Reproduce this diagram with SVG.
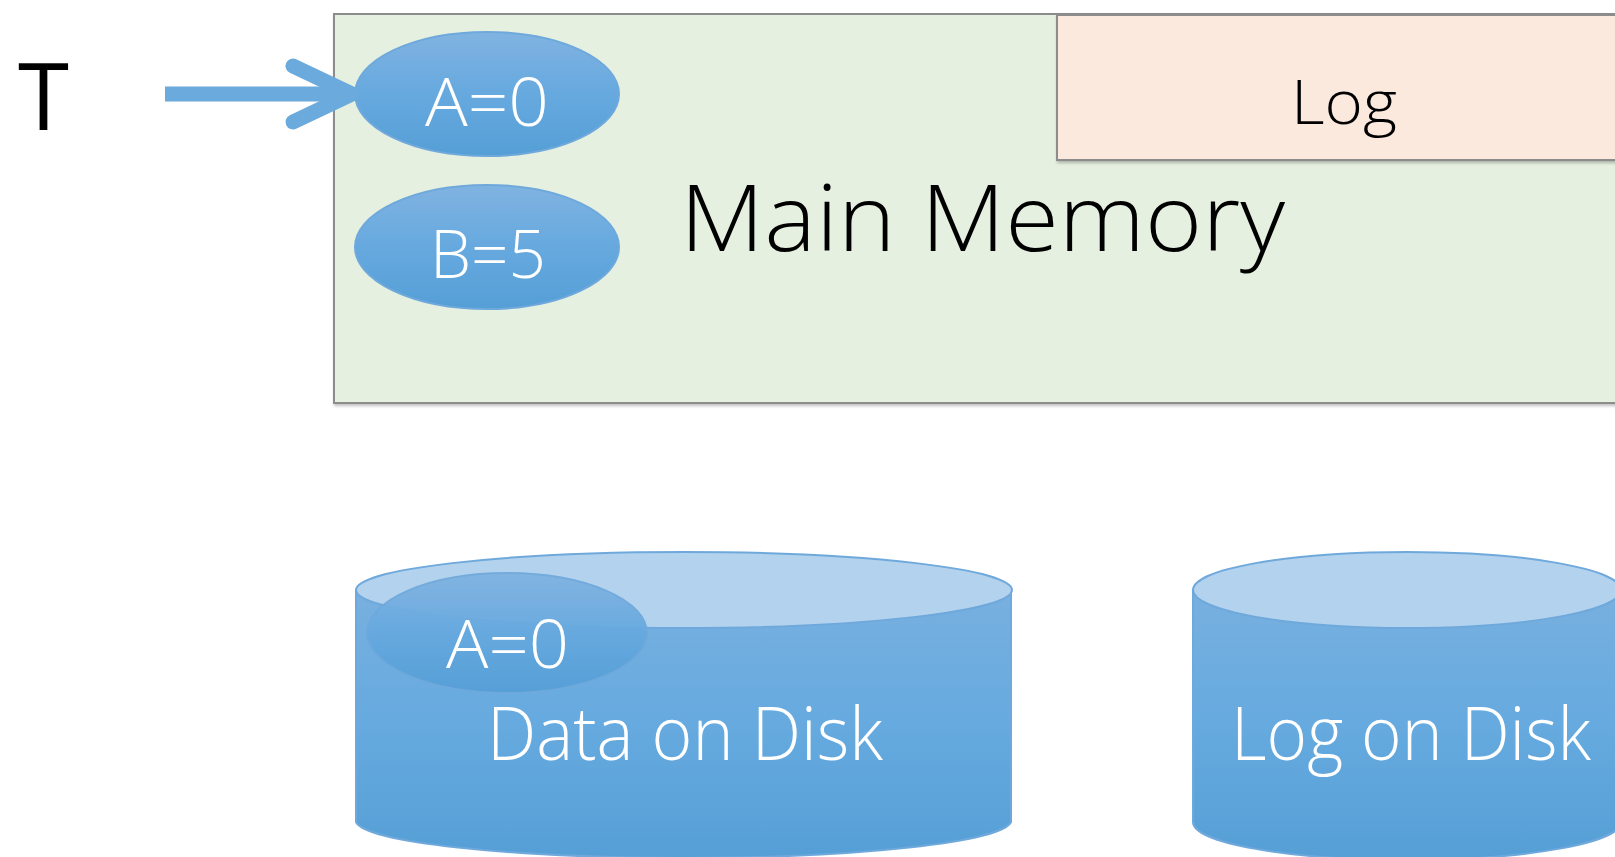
<svg xmlns="http://www.w3.org/2000/svg" width="1615" height="857" viewBox="0 0 1615 857">
<style>
.lt{font-family:"Open Sans","Liberation Sans",sans-serif;font-weight:300;}
.w{fill:#ffffff;}
.k{fill:#000000;}
.ov{stroke:#6fa9dc;stroke-width:2;fill:url(#gOv);}
.side{fill:url(#gCyl);stroke:#6fa9dc;stroke-width:2;}
.top{fill:#b3d2ed;stroke:#6fa9dc;stroke-width:2;}
</style>
<defs>
<linearGradient id="gOv" x1="0" y1="0" x2="0" y2="1">
<stop offset="0" stop-color="#80b3e1"/>
<stop offset="0.5" stop-color="#66a9df"/>
<stop offset="1" stop-color="#559fd6"/>
</linearGradient>
<linearGradient id="gCyl" x1="0" y1="0" x2="0" y2="1">
<stop offset="0" stop-color="#78b0e0"/>
<stop offset="0.5" stop-color="#66aadf"/>
<stop offset="1" stop-color="#559fd6"/>
</linearGradient>
<filter id="sh" x="-5%" y="-5%" width="110%" height="110%">
<feDropShadow dx="1" dy="2" stdDeviation="1.5" flood-color="#000" flood-opacity="0.25"/>
</filter>
</defs>
<rect width="1615" height="857" fill="#ffffff"/>

<g id="memory">
<rect x="334" y="14" width="1400" height="389" fill="#e5f0e0" stroke="#8c8c8c" stroke-width="2" filter="url(#sh)"/>
<text class="lt k" x="680" y="251" font-size="92" textLength="605" lengthAdjust="spacingAndGlyphs">Main Memory</text>
</g>

<g id="log">
<rect x="1057" y="15" width="700" height="145" fill="#fbe9de" stroke="#8c8c8c" stroke-width="2" filter="url(#sh)"/>
<text class="lt k" x="1291" y="124" font-size="60" textLength="106" lengthAdjust="spacingAndGlyphs">Log</text>
</g>

<g id="mem-a">
<ellipse class="ov" cx="487" cy="94" rx="132" ry="62"/>
<text class="lt w" x="425" y="126" font-size="67" textLength="124" lengthAdjust="spacingAndGlyphs">A=0</text>
</g>

<g id="mem-b">
<ellipse class="ov" cx="487" cy="247" rx="132" ry="62"/>
<text class="lt w" x="430" y="278" font-size="67" textLength="116" lengthAdjust="spacingAndGlyphs">B=5</text>
</g>

<g id="t-label">
<text x="18" y="130" font-family="'Open Sans','Liberation Sans',sans-serif" font-size="94" class="k" textLength="51" lengthAdjust="spacingAndGlyphs">T</text>
</g>

<g id="data-disk">
<path class="side" d="M356,590 L356,822 A328,38 0 0 0 1011,822 L1011,590 Z"/>
<ellipse class="top" cx="684" cy="590" rx="328" ry="38"/>
<text class="lt w" x="487" y="760" font-size="73" textLength="396" lengthAdjust="spacingAndGlyphs">Data on Disk</text>
</g>

<g id="disk-a">
<ellipse class="ov" cx="507" cy="633" rx="140" ry="60" opacity="0.95"/>
<text class="lt w" x="446" y="668" font-size="67" textLength="123" lengthAdjust="spacingAndGlyphs">A=0</text>
</g>

<g id="log-disk">
<path class="side" d="M1193,590 L1193,822 A214,38 0 0 0 1621,822 L1621,590 Z"/>
<ellipse class="top" cx="1407" cy="590" rx="214" ry="38"/>
<text class="lt w" x="1231" y="760" font-size="73" textLength="360" lengthAdjust="spacingAndGlyphs">Log on Disk</text>
</g>

<g id="connectors" fill="none" stroke="#6aaadc" stroke-linecap="round" stroke-linejoin="round">
<line x1="165" y1="94" x2="345" y2="94" stroke-width="15" stroke-linecap="butt"/>
<polyline points="293,66 352,94 293,122" stroke-width="15"/>
</g>
</svg>
